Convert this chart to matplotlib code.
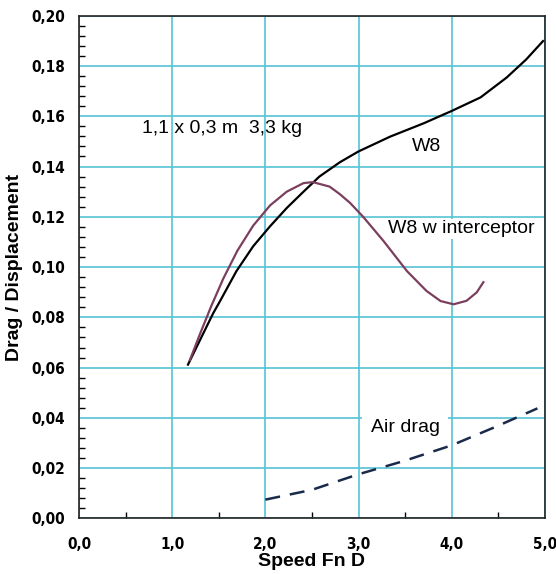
import matplotlib as mpl
mpl.use('Agg')
import matplotlib.pyplot as plt
from matplotlib.ticker import MultipleLocator, FuncFormatter

# values
w8_x = [1.17, 1.33, 1.44, 1.51, 1.69, 1.87, 2.05, 2.23, 2.41, 2.58, 2.80, 3.00, 3.34, 3.70, 4.00, 4.31, 4.59, 4.80, 4.98]
w8_y = [0.0612, 0.0733, 0.0816, 0.0862, 0.0984, 0.1083, 0.1162, 0.1235, 0.1300, 0.1360, 0.1417, 0.1460, 0.1519, 0.1572, 0.1621, 0.1675, 0.1754, 0.1826, 0.1899]

icp_x = [1.19, 1.30, 1.42, 1.55, 1.70, 1.87, 2.05, 2.23, 2.41, 2.51, 2.69, 2.80, 2.91, 3.05, 3.27, 3.52, 3.73, 3.88, 4.02, 4.16, 4.27, 4.34]
icp_y = [0.0630, 0.0735, 0.0845, 0.0955, 0.1065, 0.1165, 0.1245, 0.1300, 0.1334, 0.1338, 0.1320, 0.1290, 0.1255, 0.1200, 0.1103, 0.0984, 0.0905, 0.0865, 0.0852, 0.0866, 0.0900, 0.0940]

air_x = [2.00, 2.50, 3.00, 3.49, 4.00, 4.48, 4.92]
air_y = [0.0075, 0.0114, 0.0176, 0.0229, 0.0291, 0.0366, 0.0438]

grid_col = '#55c4d6'
comma = FuncFormatter(lambda v, p: ('%.1f' % v).replace('.', ','))
comma2 = FuncFormatter(lambda v, p: ('%.2f' % v).replace('.', ','))

fig = plt.figure(figsize=(5.56, 5.74), dpi=100)
ax = fig.add_axes([0.142, 0.0967, 0.838, 0.876])

ax.plot(w8_x, w8_y, color='black', lw=1.6, zorder=3)
ax.plot(icp_x, icp_y, color='#7b3f5e', lw=1.6, zorder=3)
ax.plot(air_x, air_y, color='#1a2a4a', lw=1.8, dashes=(6, 4), zorder=3)

ax.set_xlim(0, 5)
ax.set_ylim(0, 0.2)
ax.xaxis.set_major_locator(MultipleLocator(1.0))
ax.xaxis.set_minor_locator(MultipleLocator(0.5))
ax.yaxis.set_major_locator(MultipleLocator(0.02))
ax.yaxis.set_minor_locator(MultipleLocator(0.004))
ax.xaxis.set_major_formatter(comma)
ax.yaxis.set_major_formatter(comma2)
ax.tick_params(which='both', direction='in', length=4, width=1)
ax.tick_params(which='major', length=0)
ax.tick_params(axis='x', which='major', pad=13)
ax.tick_params(axis='y', which='major', pad=10)
for lab in ax.get_xticklabels() + ax.get_yticklabels():
    lab.set_fontfamily('DejaVu Sans')
    lab.set_fontstretch('condensed')
    lab.set_fontweight('bold')
    lab.set_fontsize(11)

ax.grid(True, which='major', color=grid_col, lw=1.2, zorder=0)
ax.set_axisbelow(True)
for s in ax.spines.values():
    s.set_linewidth(1.2)
    s.set_color('#222222')

lab_font = ['Liberation Sans', 'DejaVu Sans']
ax.set_xlabel('Speed Fn D', fontsize=14, fontweight='bold', family=lab_font, labelpad=1)
ax.set_ylabel('Drag / Displacement', fontsize=14, fontweight='bold', family=lab_font, labelpad=6)

ax.text(0.676, 0.1552, '1,1 x 0,3 m  3,3 kg', fontsize=14, family=lab_font, va='center')
ax.text(3.57, 0.148, 'W8', fontsize=14, family=lab_font, va='center')
ax.text(3.32, 0.1152, 'W8 w interceptor', fontsize=14, family=lab_font, va='center',
        bbox=dict(facecolor='white', edgecolor='none', pad=1), zorder=2)
ax.text(3.13, 0.0362, 'Air drag', fontsize=14, family=lab_font, va='center',
        bbox=dict(facecolor='white', edgecolor='none', pad=6), zorder=2)

fig.savefig('out.png', dpi=100)
